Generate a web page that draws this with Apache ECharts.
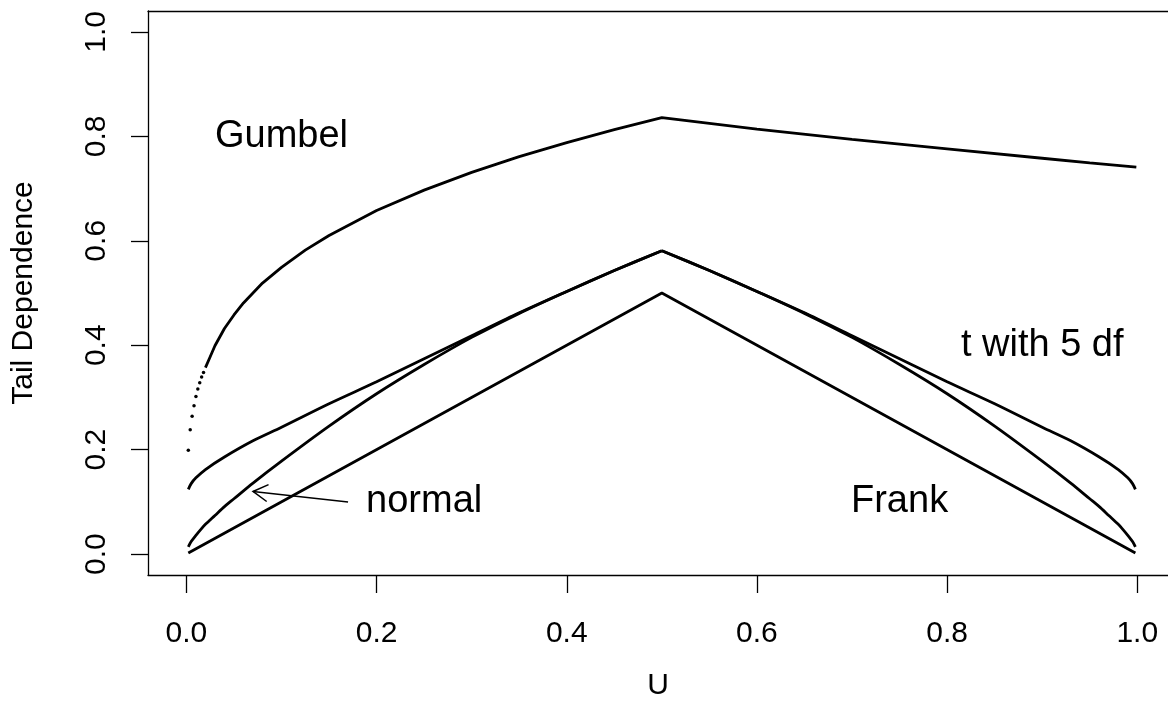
<!DOCTYPE html>
<html>
<head>
<meta charset="utf-8">
<script src="https://cdn.jsdelivr.net/npm/echarts@6/dist/echarts.min.js"></script>
<style>
html,body{margin:0;padding:0;background:#fff;}
#c{width:1168px;height:715px;}
</style>
</head>
<body>
<div id="c"></div>
<script>
// ---- data ----
const tickValues = [0, 0.2, 0.4, 0.6, 0.8, 1.0];
const tickLabels = ['0.0', '0.2', '0.4', '0.6', '0.8', '1.0'];

// Gumbel: sparse dots at the steep start, then the curve
const gumbelDotU = [0.002, 0.004, 0.006, 0.008, 0.010, 0.012, 0.014, 0.016, 0.018];
const gumbelDotY = [0.199, 0.238, 0.264, 0.284, 0.302, 0.316, 0.328, 0.339, 0.348];
const gumbelU = [0.02, 0.025, 0.03, 0.04, 0.05, 0.06, 0.08, 0.1, 0.125, 0.15, 0.2, 0.25, 0.3, 0.35, 0.4, 0.45, 0.5, 0.6, 0.7, 0.8, 0.9, 0.95, 0.999];
const gumbelY = [0.357, 0.378, 0.399, 0.432, 0.458, 0.481, 0.519, 0.549, 0.582, 0.610, 0.658, 0.697, 0.731, 0.761, 0.788, 0.813, 0.836, 0.814, 0.794, 0.776, 0.758, 0.749, 0.741];

// t with 5 df
const tU = [0.002, 0.005, 0.01, 0.02, 0.04, 0.07, 0.1, 0.15, 0.2, 0.25, 0.3, 0.35, 0.4, 0.45, 0.5, 0.55, 0.6, 0.65, 0.7, 0.75, 0.8, 0.85, 0.9, 0.93, 0.96, 0.98, 0.99, 0.995, 0.998];
const tY = [0.124, 0.135, 0.146, 0.162, 0.186, 0.217, 0.243, 0.288, 0.330, 0.374, 0.418, 0.462, 0.503, 0.543, 0.581, 0.543, 0.503, 0.462, 0.418, 0.374, 0.330, 0.288, 0.243, 0.217, 0.186, 0.162, 0.146, 0.135, 0.124];

// normal
const normalU = [0.002, 0.005, 0.01, 0.015, 0.02, 0.03, 0.04, 0.05, 0.07, 0.1, 0.15, 0.2, 0.25, 0.3, 0.35, 0.4, 0.45, 0.5, 0.55, 0.6, 0.65, 0.7, 0.75, 0.8, 0.85, 0.9, 0.93, 0.95, 0.96, 0.97, 0.98, 0.985, 0.99, 0.995, 0.998];
const normalY = [0.014, 0.024, 0.036, 0.047, 0.057, 0.074, 0.091, 0.106, 0.136, 0.178, 0.245, 0.307, 0.363, 0.415, 0.461, 0.503, 0.543, 0.581, 0.543, 0.503, 0.461, 0.415, 0.363, 0.307, 0.245, 0.178, 0.136, 0.106, 0.091, 0.074, 0.057, 0.047, 0.036, 0.024, 0.014];

// Frank
const frankU = [0.002, 0.5, 0.998];
const frankY = [0.002, 0.5, 0.002];

// text annotations
const noteText = ['Gumbel', 't with 5 df', 'normal', 'Frank'];
const noteX = [0.1, 0.9, 0.25, 0.75];
const noteY = [0.8, 0.4, 0.1, 0.1];

// arrow: from (x0,y0) to (x1,y1)
const arrowFrom = [0.17, 0.1];
const arrowTo = [0.07, 0.12];

// ---- chart ----
const FONT = "'Liberation Sans', Arial, sans-serif";
const zip = (a, b) => a.map((v, i) => [v, b[i]]);
const leftPart = (u, y) => zip(u, y).filter(p => p[0] <= 0.5);
const rightPart = (u, y) => zip(u, y).filter(p => p[0] >= 0.5);
const lineStyle = { color: '#000', width: 2.8 };
const fmt = v => tickLabels[Math.round(v * 5)];

const chart = echarts.init(document.getElementById('c'), null, { renderer: 'canvas' });

function curve(name, data, smooth) {
  return { name, type: 'line', data, showSymbol: false, smooth: smooth, lineStyle, silent: true, z: 3 };
}

const option = {
  backgroundColor: '#fff',
  animation: false,
  grid: { left: 148, top: 11, right: 0, height: 564, show: false },
  xAxis: [{
    type: 'value', min: -0.0404, max: 1.0323,
    name: 'U', nameLocation: 'middle', nameGap: 96,
    nameTextStyle: { fontFamily: FONT, fontSize: 30, color: '#000' },
    axisLine: { show: true, onZero: false, lineStyle: { color: '#000', width: 1.3 } },
    axisTick: { show: true, length: 18, lineStyle: { color: '#000', width: 1.3 }, customValues: tickValues },
    axisLabel: { show: true, margin: 44, fontFamily: FONT, fontSize: 30, color: '#000', customValues: tickValues, formatter: fmt },
    splitLine: { show: false }
  }, {
    type: 'value', min: -0.0404, max: 1.0323, position: 'top',
    axisLine: { show: true, onZero: false, lineStyle: { color: '#000', width: 1.3 } },
    axisTick: { show: false }, axisLabel: { show: false }, splitLine: { show: false }
  }],
  yAxis: {
    type: 'value', min: -0.04, max: 1.04,
    name: 'Tail Dependence', nameLocation: 'middle', nameGap: 109, nameRotate: 90,
    nameTextStyle: { fontFamily: FONT, fontSize: 30, color: '#000' },
    axisLine: { show: true, onZero: false, lineStyle: { color: '#000', width: 1.3 } },
    axisTick: { show: true, length: 17, lineStyle: { color: '#000', width: 1.3 }, customValues: tickValues },
    axisLabel: { show: true, rotate: 90, margin: 36, fontFamily: FONT, fontSize: 30, color: '#000', customValues: tickValues, formatter: fmt },
    splitLine: { show: false }
  },
  series: [
    { name: 'Gumbel dots', type: 'scatter', data: zip(gumbelDotU, gumbelDotY), symbol: 'circle', symbolSize: 3.5, itemStyle: { color: '#000', opacity: 1 }, silent: true },
    curve('Gumbel', zip(gumbelU, gumbelY), false),
    curve('t with 5 df', leftPart(tU, tY), 0.3),
    curve('t with 5 df', rightPart(tU, tY), 0.3),
    curve('normal', leftPart(normalU, normalY), 0.3),
    curve('normal', rightPart(normalU, normalY), 0.3),
    curve('Frank', zip(frankU, frankY), false),
    {
      name: 'notes', type: 'scatter', symbolSize: 1, silent: true,
      itemStyle: { color: 'rgba(0,0,0,0)', opacity: 1 },
      data: noteText.map((t, i) => ({ value: [noteX[i], noteY[i]], name: t })),
      label: { show: true, position: 'inside', formatter: p => p.name, fontFamily: FONT, fontSize: 38, color: '#000', opacity: 1, textBorderWidth: 0 }
    },
    {
      name: 'arrow', type: 'custom', silent: true,
      data: [[arrowFrom[0], arrowFrom[1], arrowTo[0], arrowTo[1]]],
      renderItem: function (params, api) {
        const p0 = api.coord([api.value(0), api.value(1)]);
        const p1 = api.coord([api.value(2), api.value(3)]);
        const ang = Math.atan2(p0[1] - p1[1], p0[0] - p1[0]);
        const L = 17, a = Math.PI / 6;
        const h1 = [p1[0] + L * Math.cos(ang + a), p1[1] + L * Math.sin(ang + a)];
        const h2 = [p1[0] + L * Math.cos(ang - a), p1[1] + L * Math.sin(ang - a)];
        return {
          type: 'group',
          children: [
            { type: 'line', shape: { x1: p0[0], y1: p0[1], x2: p1[0], y2: p1[1] }, style: { stroke: '#000', lineWidth: 1.5 } },
            { type: 'polyline', shape: { points: [h1, p1, h2] }, style: { stroke: '#000', lineWidth: 1.5, fill: null } }
          ]
        };
      }
    }
  ]
};
chart.setOption(option);
</script>
</body>
</html>
